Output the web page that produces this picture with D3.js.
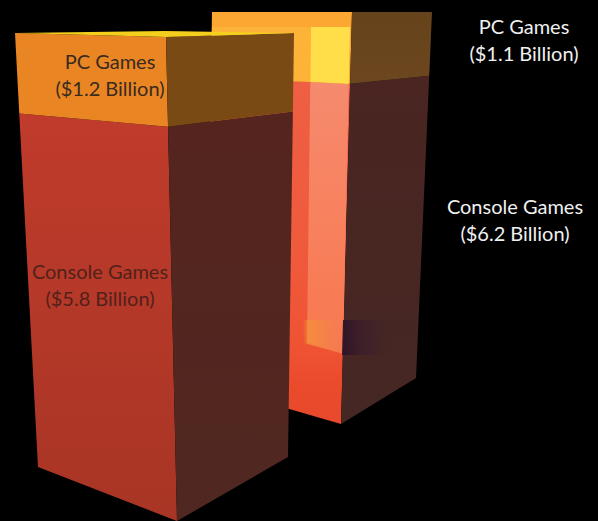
<!DOCTYPE html>
<html><head><meta charset="utf-8">
<style>html,body{margin:0;background:#000}svg{display:block}</style>
<script src="https://cdnjs.cloudflare.com/ajax/libs/d3/7.8.5/d3.min.js"></script>
</head><body>
<svg id="chart" width="598" height="521"></svg>
<script>
// Game revenue in billions of dollars, stacked console + PC for two periods
const segments = ["Console Games", "PC Games"];
const frontValues = [5.8, 1.2];
const backValues = [6.2, 1.1];

const svg = d3.select("#chart");
const defs = svg.append("defs");

function vGrad(id, stops) {
  const g = defs.append("linearGradient").attr("id", id)
    .attr("x1", 0).attr("x2", 0).attr("y1", 0).attr("y2", 1);
  stops.forEach(([o, c]) => g.append("stop").attr("offset", o).attr("stop-color", c));
  return `url(#${id})`;
}
function hGrad(id, stops) {
  const g = defs.append("linearGradient").attr("id", id);
  stops.forEach(([o, c, a]) => g.append("stop").attr("offset", o).attr("stop-color", c).attr("stop-opacity", a));
  return `url(#${id})`;
}

// A tower is a set of vertical edges; each edge turns a cumulative value into a
// screen point, with a power scale standing in for the perspective foreshortening.
function makeEdge(values, exponent) {
  const total = d3.sum(values);
  const t = d3.scalePow().exponent(exponent).domain([0, total]).range([0, 1]);
  return (bottom, top) => {
    const x = d3.scaleLinear().domain([0, 1]).range([bottom[0], top[0]]);
    const y = d3.scaleLinear().domain([0, 1]).range([bottom[1], top[1]]);
    return v => [x(t(v)), y(t(v))];
  };
}
const line = d3.line();
function band(a, b, v0, v1, fill) {
  svg.append("path")
    .attr("d", line([a(v0), b(v0), b(v1), a(v1)]) + "Z")
    .attr("fill", fill);
}

const stacks = vals => {
  const s = d3.cumsum(vals);
  return vals.map((_, i) => [i ? s[i - 1] : 0, s[i]]);
};

/* Rear tower */
const backEdge = makeEdge(backValues, 1.17);
const bL = backEdge([206, 385], [212, 12]);
const bF = backEdge([341, 424], [352, 12]);
const bR = backEdge([416, 378], [432, 12]);
const bInL = backEdge([307, 343], [311, 27]);
const bInR = backEdge([343, 354], [350, 27]);
const bShelf = backEdge([206, 325], [212, 27]);
const [bLow, bHigh] = stacks(backValues);

// Gradient stops run from the top of each face downward
band(bL, bF, ...bLow, vGrad("bfLow", [[0, "#ee5f44"], [0.5, "#f05a3c"], [0.8, "#ee5232"], [0.88, "#ea4b2d"], [1, "#e8492c"]]));
band(bL, bF, ...bHigh, "#fba732");
band(bShelf, bInL, bHigh[0], bHigh[1], "#fdb337");
band(bF, bR, ...bLow, vGrad("brLow", [[0, "#4a2522"], [1, "#452723"]]));
band(bF, bR, ...bHigh, vGrad("brHigh", [[0, "#66431b"], [1, "#6c461f"]]));

// Lit inner column showing through the rear tower's front face
band(bInL, bInR, ...bLow, vGrad("inLow", [[0, "#f58a6e"], [0.45, "#f88260"], [1, "#f7784e"]]));
band(bInL, bInR, ...bHigh, "#ffde49");

// Soft glow band that crosses the lower corner of the tower: warm on the
// front face, a dark violet fade on the side face
const glowWarm = hGrad("glowWarm", [
  [0, "#f49a30", 0], [0.12, "#f49a30", 0.55], [0.6, "#f28a40", 0.45], [1, "#f08068", 0.1]
]);
const glowDark = hGrad("glowDark", [
  [0, "#2e1326", 0.95], [0.3, "#3a1c2a", 0.9], [0.65, "#40222c", 0.75], [1, "#452723", 0]
]);
svg.append("path").attr("d", "M303,320L343,320L343,354L307,344L303,343Z").attr("fill", glowWarm);
svg.append("path").attr("d", "M343,320L392,320L392,355L342,355Z").attr("fill", glowDark);

/* Front tower */
const frontEdge = makeEdge(frontValues, 1.09);
const fL = frontEdge([38, 467], [15, 33]);
const fF = frontEdge([177, 521], [166, 37]);
const fR = frontEdge([288, 457], [294, 33]);
const [fLow, fHigh] = stacks(frontValues);

band(fL, fF, ...fLow, vGrad("ffLow", [[0, "#c03b2b"], [1, "#a83525"]]));
band(fL, fF, ...fHigh, "#e98623");
band(fF, fR, ...fLow, vGrad("frLow", [[0, "#55241e"], [1, "#502821"]]));
band(fF, fR, ...fHigh, "#7a4a15");

const total = d3.sum(frontValues);
svg.append("path")
  .attr("d", line([fL(total), [165, 31], fR(total), fF(total)]) + "Z")
  .attr("fill", "#f4cf1e");

/* Labels */
const labels = [
  { name: segments[1], value: backValues[1], x: 524, y: 34, fill: "#f0f0f0" },
  { name: segments[0], value: backValues[0], x: 515, y: 214, fill: "#f0f0f0" },
  { name: segments[1], value: frontValues[1], x: 110, y: 69, fill: "#3a2a20" },
  { name: segments[0], value: frontValues[0], x: 100, y: 279, fill: "#52211a" }
];
labels.forEach(d => {
  const t = svg.append("text")
    .attr("text-anchor", "middle")
    .attr("font-family", "Lato, 'Open Sans', sans-serif")
    .attr("font-size", 20)
    .attr("fill", d.fill);
  t.append("tspan").attr("x", d.x).attr("y", d.y).text(d.name);
  t.append("tspan").attr("x", d.x).attr("y", d.y + 27).text(`($${d.value.toFixed(1)} Billion)`);
});
</script>
</body></html>
